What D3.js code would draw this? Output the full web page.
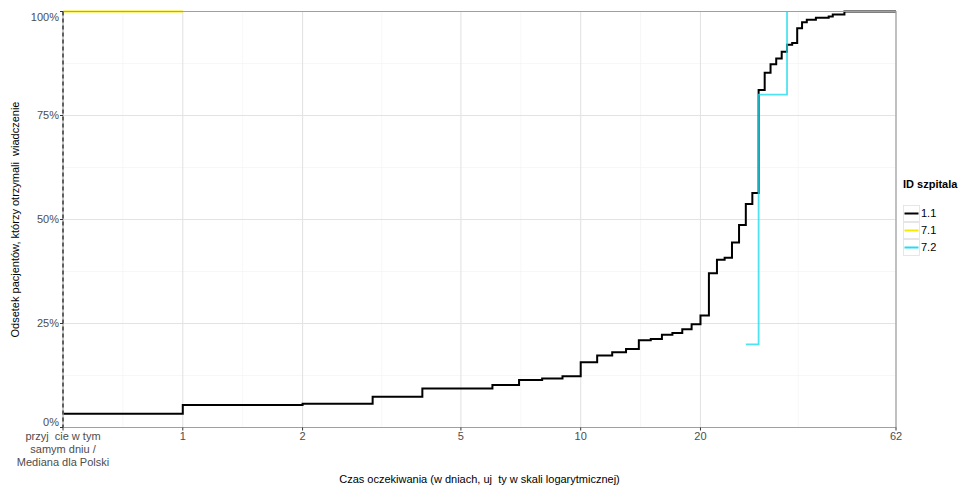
<!DOCTYPE html>
<html><head><meta charset="utf-8">
<script src="https://cdn.jsdelivr.net/npm/d3@7"></script>
<style>html,body{margin:0;padding:0;background:#fff;}svg{display:block;font-family:"Liberation Sans",Arial,sans-serif;}svg text{white-space:pre;}</style>
</head><body><svg id="c" width="958" height="486"></svg>
<script>
// ---- data ----
const seriesIds = ["1.1", "7.1", "7.2"];
const seriesColors = ["#000000", "#F5E900", "#22DCF0"];
const days11 = [0, 1, 2, 3, 4, 6, 7, 8, 9, 10, 11, 12, 13, 14, 15, 16, 17, 18, 19, 20, 21, 22, 23, 24, 25, 26, 27, 28, 29, 30, 31, 32, 33, 34, 35, 36, 37, 39, 42, 43, 46, 62];
const pct11  = [3.3, 5.4, 5.7, 7.4, 9.4, 10.2, 11.4, 11.8, 12.3, 15.7, 17.3, 18.1, 18.9, 21.0, 21.3, 22.3, 22.7, 23.6, 24.8, 26.9, 37.1, 40.3, 40.8, 44.5, 48.7, 53.7, 56.4, 81.1, 85.3, 87.3, 88.7, 90.3, 92.0, 92.4, 96.0, 97.4, 98.0, 98.5, 98.8, 99.3, 100, 100];
const days71 = [0, 1];
const pct71  = [100, 100];
const days72 = [26, 28, 33];
const pct72  = [20, 80, 100];
const xTickValues = [0, 1, 2, 5, 10, 20, 62];
const xTickLabels = [["przyj  cie w tym", "samym dniu /", "Mediana dla Polski"], ["1"], ["2"], ["5"], ["10"], ["20"], ["62"]];
const yTickValues = [0, 25, 50, 75, 100];
const yTickLabels = ["0%", "25%", "50%", "75%", "100%"];
const xTitle = "Czas oczekiwania (w dniach, uj  ty w skali logarytmicznej)";
const yTitle = "Odsetek pacjentów, którzy otrzymali  wiadczenie";
const legendTitle = "ID szpitala";

// ---- layout ----
const L = 63, R = 896, T = 11.5, B = 427.5;
const svg = d3.select("#c");
const dayPos = d => Math.max(d, 0.5);
const x = d3.scaleLog().domain([0.5, 62]).range([L, R]);
const y = d3.scaleLinear().domain([0, 100]).range([B, T]);

// grid
const g = svg.append("g");
const majX = xTickValues.map(dayPos);
const minX = majX.slice(1).map((v, i) => Math.sqrt(v * majX[i]));
const minY = yTickValues.slice(1).map((v, i) => (v + yTickValues[i]) / 2);
g.selectAll(".mnx").data(minX).join("line").attr("x1", d => x(d)).attr("x2", d => x(d)).attr("y1", T).attr("y2", B).attr("stroke", "#F2F2F2").attr("stroke-width", 0.6);
g.selectAll(".mny").data(minY).join("line").attr("y1", d => y(d)).attr("y2", d => y(d)).attr("x1", L).attr("x2", R).attr("stroke", "#F2F2F2").attr("stroke-width", 0.6);
g.selectAll(".mjx").data(majX).join("line").attr("x1", d => x(d)).attr("x2", d => x(d)).attr("y1", T).attr("y2", B).attr("stroke", "#E3E3E3").attr("stroke-width", 1.1);
g.selectAll(".mjy").data(yTickValues).join("line").attr("y1", d => y(d)).attr("y2", d => y(d)).attr("x1", L).attr("x2", R).attr("stroke", "#E3E3E3").attr("stroke-width", 1.1);

// lines
const line = d3.line().x(d => x(dayPos(d[0]))).y(d => y(d[1])).curve(d3.curveStepAfter);
const series = [
  {id: seriesIds[0], pts: d3.zip(days11, pct11), color: seriesColors[0], w: 2, op: 1},
  {id: seriesIds[1], pts: d3.zip(days71, pct71), color: seriesColors[1], w: 1.8, op: 1},
  {id: seriesIds[2], pts: d3.zip(days72, pct72), color: seriesColors[2], w: 1.8, op: 0.8}
];
svg.append("g").selectAll("path").data(series).join("path")
  .attr("d", s => line(s.pts)).attr("fill", "none")
  .attr("stroke", s => s.color).attr("stroke-width", s => s.w).attr("stroke-opacity", s => s.op);

// panel border
svg.append("path").attr("d", `M${L},${T}H${R}V${B}H${L}`).attr("fill", "none").attr("stroke", "#A0A0A0").attr("stroke-width", 1.2);
svg.append("line").attr("x1", L).attr("x2", L).attr("y1", T).attr("y2", B).attr("stroke", "#BBBBBB").attr("stroke-width", 1.5);
svg.append("line").attr("x1", L).attr("x2", L).attr("y1", T).attr("y2", B).attr("stroke", "#555").attr("stroke-width", 1.8).attr("stroke-dasharray", "4,3");

// y axis
const ya = svg.append("g");
ya.selectAll("line").data(yTickValues).join("line").attr("x1", L - 3).attr("x2", L).attr("y1", d => y(d)).attr("y2", d => y(d)).attr("stroke", "#333").attr("stroke-width", 1);
const yShift = d => d === 0 ? -5.5 : (d === 100 ? 5.5 : 0);
ya.selectAll("text").data(yTickValues).join("text").attr("x", L - 4).attr("y", d => y(d) + yShift(d)).attr("dy", "0.35em")
  .attr("text-anchor", "end").attr("font-size", 11).attr("fill", "#4D4D4D").text((d, i) => yTickLabels[i]);

// x axis
const xa = svg.append("g");
xa.selectAll("line").data(majX).join("line").attr("x1", d => x(d)).attr("x2", d => x(d)).attr("y1", B).attr("y2", B + 3).attr("stroke", "#333").attr("stroke-width", 1);
const xt = xa.selectAll("text").data(majX).join("text").attr("x", d => x(d)).attr("y", B + 12)
  .attr("text-anchor", "middle").attr("font-size", 11).attr("fill", "#4D4D4D");
xt.each(function(d, i) {
  d3.select(this).selectAll("tspan").data(xTickLabels[i]).join("tspan")
    .attr("x", x(d)).attr("dy", (t, j) => j === 0 ? 0 : 13).text(t => t);
});

// titles
svg.append("text").attr("x", (L + R) / 2).attr("y", 483).attr("text-anchor", "middle").attr("font-size", 11).attr("fill", "#000").text(xTitle);
svg.append("text").attr("transform", `translate(19,${(T + B) / 2}) rotate(-90)`).attr("text-anchor", "middle").attr("font-size", 11).attr("fill", "#000").text(yTitle);

// legend
const lg = svg.append("g").attr("transform", "translate(903,0)");
lg.append("text").attr("x", 0).attr("y", 188).attr("font-size", 11).attr("font-weight", "bold").attr("fill", "#000").text(legendTitle);
const keys = lg.selectAll("g.k").data(series).join("g").attr("transform", (d, i) => `translate(0,${205 + i * 17})`);
keys.append("rect").attr("x", 0.5).attr("y", 0.5).attr("width", 16).attr("height", 16).attr("fill", "#fff").attr("stroke", "#E0E0E0").attr("stroke-width", 0.8);
keys.append("line").attr("x1", 1.5).attr("x2", 15.5).attr("y1", 8.5).attr("y2", 8.5).attr("stroke", d => d.color).attr("stroke-width", 2);
keys.append("text").attr("x", 18).attr("y", 8.5).attr("dy", "0.35em").attr("font-size", 11).attr("fill", "#000").text(d => d.id);
</script></body></html>
